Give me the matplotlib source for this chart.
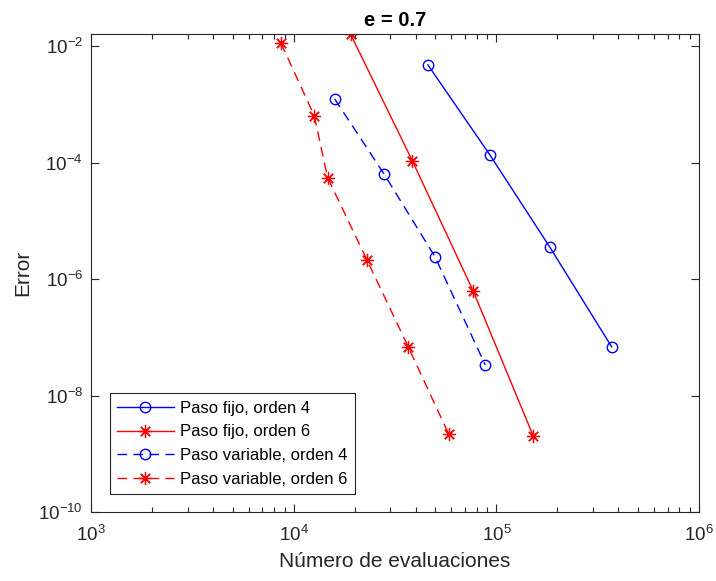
import numpy as np
import matplotlib
matplotlib.use("Agg")
import matplotlib.pyplot as plt
from matplotlib.ticker import LogLocator, FuncFormatter, NullLocator, NullFormatter, FixedLocator

plt.rcParams['font.family'] = ['Liberation Sans', 'DejaVu Sans']
plt.rcParams['mathtext.fontset'] = 'custom'
plt.rcParams['mathtext.rm'] = 'Liberation Sans'
plt.rcParams['mathtext.default'] = 'regular'

# evaluaciones / error
fijo4_n = [45900, 92900, 183700, 370500]
fijo4_err = [4.8e-3, 1.36e-4, 3.53e-6, 6.9e-8]

fijo6_n = [19070, 38400, 76800, 152000]
fijo6_err = [1.61e-2, 1.09e-4, 6.27e-7, 2.02e-9]

var4_n = [15900, 27930, 49700, 88100]
var4_err = [1.25e-3, 6.34e-5, 2.44e-6, 3.36e-8]

var6_n = [8640, 12610, 14680, 22950, 36700, 58100]
var6_err = [1.13e-2, 6.44e-4, 5.55e-5, 2.14e-6, 6.9e-8, 2.19e-9]

labels = ['Paso fijo, orden 4', 'Paso fijo, orden 6',
          'Paso variable, orden 4', 'Paso variable, orden 6']

xticks = [1e3, 1e4, 1e5, 1e6]
yticks = [1e-10, 1e-8, 1e-6, 1e-4, 1e-2]

dark = '#262626'
star = (8, 2, 0)

fig = plt.figure(figsize=(7.16, 5.81), dpi=100)
ax = fig.add_axes([0.1275, 0.1188, 0.8487, 0.8222])

ax.loglog(fijo4_n, fijo4_err, '-', color='b', marker='o', mfc='none',
          ms=7.5, lw=1.0, label=labels[0])
ax.loglog(fijo6_n, fijo6_err, '-', color='r', marker=star,
          ms=9.5, lw=1.0, mew=0.9, label=labels[1])
ax.loglog(var4_n, var4_err, '--', color='b', marker='o', mfc='none',
          ms=7.5, lw=1.0, dashes=(7, 4.5), label=labels[2])
ax.loglog(var6_n, var6_err, '--', color='r', marker=star,
          ms=9.5, lw=1.0, mew=0.9, dashes=(7, 4.5), label=labels[3])

ax.set_xlim(1e3, 1e6)
ax.set_ylim(1e-10, max(fijo6_err))

ax.xaxis.set_major_locator(FixedLocator(xticks))
ax.xaxis.set_minor_locator(LogLocator(base=10, subs=np.arange(2, 10), numticks=20))
ax.xaxis.set_minor_formatter(NullFormatter())
ax.yaxis.set_major_locator(FixedLocator(yticks))
ax.yaxis.set_minor_locator(NullLocator())

fmt = FuncFormatter(lambda v, p: r'$10^{%d}$' % int(round(np.log10(v))))
ax.xaxis.set_major_formatter(fmt)
ax.yaxis.set_major_formatter(fmt)

ax.tick_params(which='both', direction='in', top=True, right=True,
               colors=dark, labelsize=13.5, width=0.8)
ax.tick_params(which='major', length=6)
ax.tick_params(which='minor', length=3.5)
ax.tick_params(axis='x', pad=9)
ax.tick_params(axis='y', pad=6)
for s in ax.spines.values():
    s.set_color(dark)
    s.set_linewidth(0.8)

ax.set_xlabel('Número de evaluaciones', fontsize=15, color=dark, labelpad=5)
ax.set_ylabel('Error', fontsize=15, color=dark, labelpad=4)
ax.set_title('e = 0.7', fontsize=14.5, fontweight='bold', pad=6)

leg = ax.legend(loc='lower left', bbox_to_anchor=(0.03, 0.037),
                borderaxespad=0, fontsize=12, handlelength=3.4,
                handletextpad=0.4, labelspacing=0.52, borderpad=0.45,
                fancybox=False, framealpha=1)
leg.get_frame().set_edgecolor(dark)
leg.get_frame().set_linewidth(0.8)

fig.savefig('out.png', dpi=100)
